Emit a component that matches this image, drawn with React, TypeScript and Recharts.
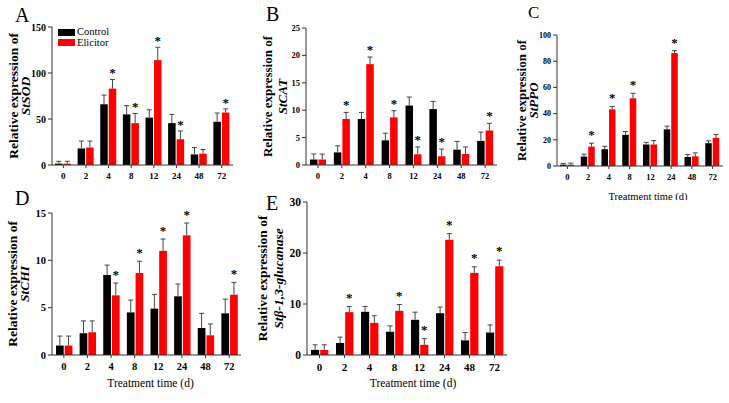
import React from 'react';
import { BarChart, Bar, XAxis, YAxis, Legend } from 'recharts';

// Sampling times (days after treatment)
const TIME = ['0', '2', '4', '8', '12', '24', '48', '72'];

// StSOD
const sodControl = [1.5, 18, 66, 55, 51.5, 45.5, 11.5, 47];
const sodControlErr = [2.5, 8, 10, 9.5, 8.5, 9.5, 7.5, 9.5];
const sodElicitor = [1.5, 19, 83, 45.5, 114, 28, 12.3, 57];
const sodElicitorErr = [2.5, 7, 10, 10.5, 14, 9, 4.5, 4];
const sodSig = [0, 0, 1, 1, 1, 1, 0, 1];

// StCAT
const catControl = [1.0, 2.3, 8.4, 4.5, 10.85, 10.2, 2.8, 4.4];
const catControlErr = [1.0, 1.2, 1.2, 1.3, 1.55, 1.4, 1.5, 1.6];
const catElicitor = [1.0, 8.4, 18.4, 8.7, 1.95, 1.6, 2.0, 6.3];
const catElicitorErr = [1.0, 1.2, 1.3, 1.2, 1.35, 1.3, 1.3, 1.3];
const catSig = [0, 1, 1, 1, 1, 1, 0, 1];

// StPPO
const ppoControl = [1, 7.2, 12.8, 23.8, 16.4, 28, 6.9, 17.4];
const ppoControlErr = [1, 1.8, 2.2, 2.5, 1.6, 2.4, 1.8, 1.8];
const ppoElicitor = [1, 14.8, 43.2, 51.7, 16.4, 86.2, 7.4, 21.5];
const ppoElicitorErr = [1.2, 2.6, 2.3, 3.8, 3, 1.8, 2.6, 2.5];
const ppoSig = [0, 1, 1, 1, 0, 1, 0, 0];

// StCHI
const chiControl = [1.0, 2.3, 8.45, 4.5, 4.9, 6.2, 2.85, 4.4];
const chiControlErr = [1.0, 1.3, 1.05, 1.3, 1.5, 1.3, 1.55, 1.5];
const chiElicitor = [1.0, 2.4, 6.3, 8.66, 11.0, 12.64, 2.08, 6.37];
const chiElicitorErr = [1.0, 1.2, 1.3, 1.24, 1.25, 1.3, 1.2, 1.3];
const chiSig = [0, 0, 1, 1, 1, 1, 0, 1];

// Stβ-1,3-glucanase
const gluControl = [1.0, 2.35, 8.47, 4.56, 6.9, 8.2, 2.87, 4.4];
const gluControlErr = [1.0, 1.15, 1.05, 1.15, 1.5, 1.2, 1.55, 1.5];
const gluElicitor = [1.0, 8.4, 6.3, 8.66, 2.0, 22.6, 16.1, 17.4];
const gluElicitorErr = [1.0, 1.1, 1.4, 1.24, 1.2, 1.2, 1.2, 1.2];
const gluSig = [0, 1, 0, 1, 1, 1, 1, 1];

const sodTicks = [0, 50, 100, 150];
const catTicks = [0, 5, 10, 15, 20, 25];
const ppoTicks = [0, 20, 40, 60, 80, 100];
const chiTicks = [0, 5, 10, 15];
const gluTicks = [0, 10, 20, 30];

const SERIF = '"Liberation Serif", "Times New Roman", serif';
const AXIS = '#333';
const WHISKER = '#444';
const RED = '#ff0000';

const buildRows = (c: number[], ce: number[], e: number[], ee: number[], sig: number[]) =>
  TIME.map((t, i) => ({
    time: t,
    control: c[i],
    controlErr: ce[i],
    elicitor: e[i],
    elicitorErr: ee[i],
    sig: sig[i],
  }));

// Bar with an upward error whisker and an optional significance star
const makeBarShape =
  (valueKey: string, errKey: string, withStar: boolean, starGap: number, starSize: number) =>
  (props: any) => {
    const { x, y, width, height, fill, payload } = props;
    const v = payload[valueKey];
    const ppu = v > 0 ? height / v : 0;
    const capY = y - payload[errKey] * ppu;
    const cx = x + width / 2;
    return (
      <g>
        <rect x={x} y={y} width={width} height={height} fill={fill} />
        <line x1={cx} x2={cx} y1={y} y2={capY} stroke={WHISKER} strokeWidth={1} />
        <line x1={cx - 2.5} x2={cx + 2.5} y1={capY} y2={capY} stroke={WHISKER} strokeWidth={1} />
        {withStar && payload.sig ? (
          <text
            x={cx}
            y={capY - starGap}
            textAnchor="middle"
            fontFamily={SERIF}
            fontWeight="bold"
            fontSize={starSize}
            fill="#000"
          >
            *
          </text>
        ) : null}
      </g>
    );
  };

const LegendBox = (props: any) => {
  const items = props.payload || [];
  return (
    <div style={{ fontFamily: SERIF, fontSize: 10.5, lineHeight: '10.5px' }}>
      {items.map((it: any) => (
        <div key={it.value} style={{ display: 'flex', alignItems: 'center', height: 10.5 }}>
          <span
            style={{ display: 'inline-block', flexShrink: 0, width: 17, height: 7, background: it.color, marginRight: 2 }}
          />
          <span>{it.value}</span>
        </div>
      ))}
    </div>
  );
};

type PanelProps = {
  left: number;
  top: number;
  width: number;
  height: number;
  marginTop: number;
  marginRight: number;
  yWidth: number;
  xHeight: number;
  rows: any[];
  max: number;
  ticks: number[];
  gene: string;
  titleX1: number;
  titleX2: number;
  titleSize: number;
  xTickSize: number;
  yTickSize: number;
  barSize: number;
  starGap: number;
  xTitle?: { dy: number; dx: number; size: number };
  legend?: boolean;
};

const Panel = (p: PanelProps) => {
  const yTitle = (props: any) => {
    const vb = props.viewBox || {};
    const cy = vb.y + vb.height / 2;
    const x1 = vb.x + p.titleX1;
    const x2 = vb.x + p.titleX2;
    return (
      <g>
        <text
          x={x1}
          y={cy}
          transform={`rotate(-90 ${x1} ${cy})`}
          textAnchor="middle"
          dominantBaseline="central"
          fontFamily={SERIF}
          fontWeight="bold"
          fontSize={p.titleSize}
          fill="#000"
        >
          Relative expression of
        </text>
        <text
          x={x2}
          y={cy}
          transform={`rotate(-90 ${x2} ${cy})`}
          textAnchor="middle"
          dominantBaseline="central"
          fontFamily={SERIF}
          fontWeight="bold"
          fontStyle="italic"
          fontSize={p.titleSize}
          fill="#000"
        >
          {p.gene}
        </text>
      </g>
    );
  };
  const xTitle = (props: any) => {
    const vb = props.viewBox || {};
    const t = p.xTitle!;
    return (
      <text
        x={vb.x + vb.width / 2 + t.dx}
        y={vb.y + t.dy}
        textAnchor="middle"
        dominantBaseline="central"
        fontFamily={SERIF}
        fontSize={t.size}
        fill="#000"
      >
        Treatment time (d)
      </text>
    );
  };
  return (
    <div style={{ position: 'absolute', left: p.left, top: p.top }}>
      <BarChart
        width={p.width}
        height={p.height}
        data={p.rows}
        margin={{ top: p.marginTop, right: p.marginRight, bottom: 0, left: 0 }}
        barGap={1}
        barSize={p.barSize}
      >
        <XAxis
          dataKey="time"
          height={p.xHeight}
          interval={0}
          tickSize={3}
          tickMargin={5}
          axisLine={{ stroke: AXIS }}
          tickLine={{ stroke: AXIS }}
          tick={{ fontFamily: SERIF, fontWeight: 'bold', fontSize: p.xTickSize, fill: '#000' }}
          label={p.xTitle ? { content: xTitle } : undefined}
        />
        <YAxis
          width={p.yWidth}
          domain={[0, p.max]}
          ticks={p.ticks}
          interval={0}
          tickSize={4}
          tickMargin={2}
          axisLine={{ stroke: AXIS }}
          tickLine={{ stroke: AXIS }}
          tick={{ fontFamily: SERIF, fontWeight: 'bold', fontSize: p.yTickSize, fill: '#000' }}
          label={{ content: yTitle }}
        />
        {p.legend ? (
          <Legend
            layout="horizontal"
            verticalAlign="middle"
            align="center"
            content={LegendBox}
            wrapperStyle={{ left: 58, top: 27, width: 80 }}
          />
        ) : null}
        <Bar
          dataKey="control"
          name="Control"
          fill="#000000"
          isAnimationActive={false}
          shape={makeBarShape('control', 'controlErr', false, p.starGap, 13)}
        />
        <Bar
          dataKey="elicitor"
          name="Elicitor"
          fill={RED}
          isAnimationActive={false}
          shape={makeBarShape('elicitor', 'elicitorErr', true, p.starGap, 13)}
        />
      </BarChart>
    </div>
  );
};

const LETTER = (x: number, y: number, s: string, size: number) => (
  <text x={x} y={y} fontFamily={SERIF} fontSize={size} fill="#000">
    {s}
  </text>
);

export default function App() {
  return (
    <div style={{ position: 'absolute', left: 0, top: 0, width: 729, height: 403, background: '#fff', overflow: 'hidden' }}>
      <Panel
        left={0} top={0} width={245} height={195} marginTop={27} marginRight={12}
        yWidth={52} xHeight={30}
        rows={buildRows(sodControl, sodControlErr, sodElicitor, sodElicitorErr, sodSig)}
        max={150} ticks={sodTicks} gene="StSOD"
        titleX1={13} titleX2={25} titleSize={13.5}
        xTickSize={9} yTickSize={10} barSize={7.5} starGap={2}
        legend
      />
      <Panel
        left={250} top={0} width={257} height={195} marginTop={28} marginRight={10}
        yWidth={56} xHeight={30}
        rows={buildRows(catControl, catControlErr, catElicitor, catElicitorErr, catSig)}
        max={25} ticks={catTicks} gene="StCAT"
        titleX1={17} titleX2={32} titleSize={13}
        xTickSize={8.5} yTickSize={8.5} barSize={7.5} starGap={3}
      />
      <Panel
        left={505} top={0} width={224} height={200} marginTop={35} marginRight={6}
        yWidth={52} xHeight={34}
        rows={buildRows(ppoControl, ppoControlErr, ppoElicitor, ppoElicitorErr, ppoSig)}
        max={100} ticks={ppoTicks} gene="StPPO"
        titleX1={16} titleX2={28} titleSize={13}
        xTickSize={8.5} yTickSize={8} barSize={6.5} starGap={4}
        xTitle={{ dy: 30, dx: 8, size: 10.5 }}
      />
      <Panel
        left={0} top={195} width={250} height={208} marginTop={18} marginRight={9}
        yWidth={52} xHeight={48}
        rows={buildRows(chiControl, chiControlErr, chiElicitor, chiElicitorErr, chiSig)}
        max={15} ticks={chiTicks} gene="StCHI"
        titleX1={12} titleX2={24} titleSize={13.5}
        xTickSize={10.5} yTickSize={10.5} barSize={7.7} starGap={4}
        xTitle={{ dy: 28, dx: 4, size: 11.5 }}
      />
      <Panel
        left={250} top={195} width={270} height={208} marginTop={7} marginRight={13}
        yWidth={57} xHeight={48}
        rows={buildRows(gluControl, gluControlErr, gluElicitor, gluElicitorErr, gluSig)}
        max={30} ticks={gluTicks} gene="Stβ-1,3-glucanase"
        titleX1={12} titleX2={28} titleSize={13.5}
        xTickSize={11} yTickSize={11.5} barSize={8.2} starGap={5}
        xTitle={{ dy: 28, dx: 6, size: 11.5 }}
      />
      <svg width={729} height={403} style={{ position: 'absolute', left: 0, top: 0, pointerEvents: 'none' }}>
        {LETTER(15, 22, 'A', 20)}
        {LETTER(266, 21, 'B', 20)}
        {LETTER(528, 18, 'C', 17)}
        {LETTER(15, 205, 'D', 20)}
        {LETTER(266, 210, 'E', 20)}
      </svg>
    </div>
  );
}
